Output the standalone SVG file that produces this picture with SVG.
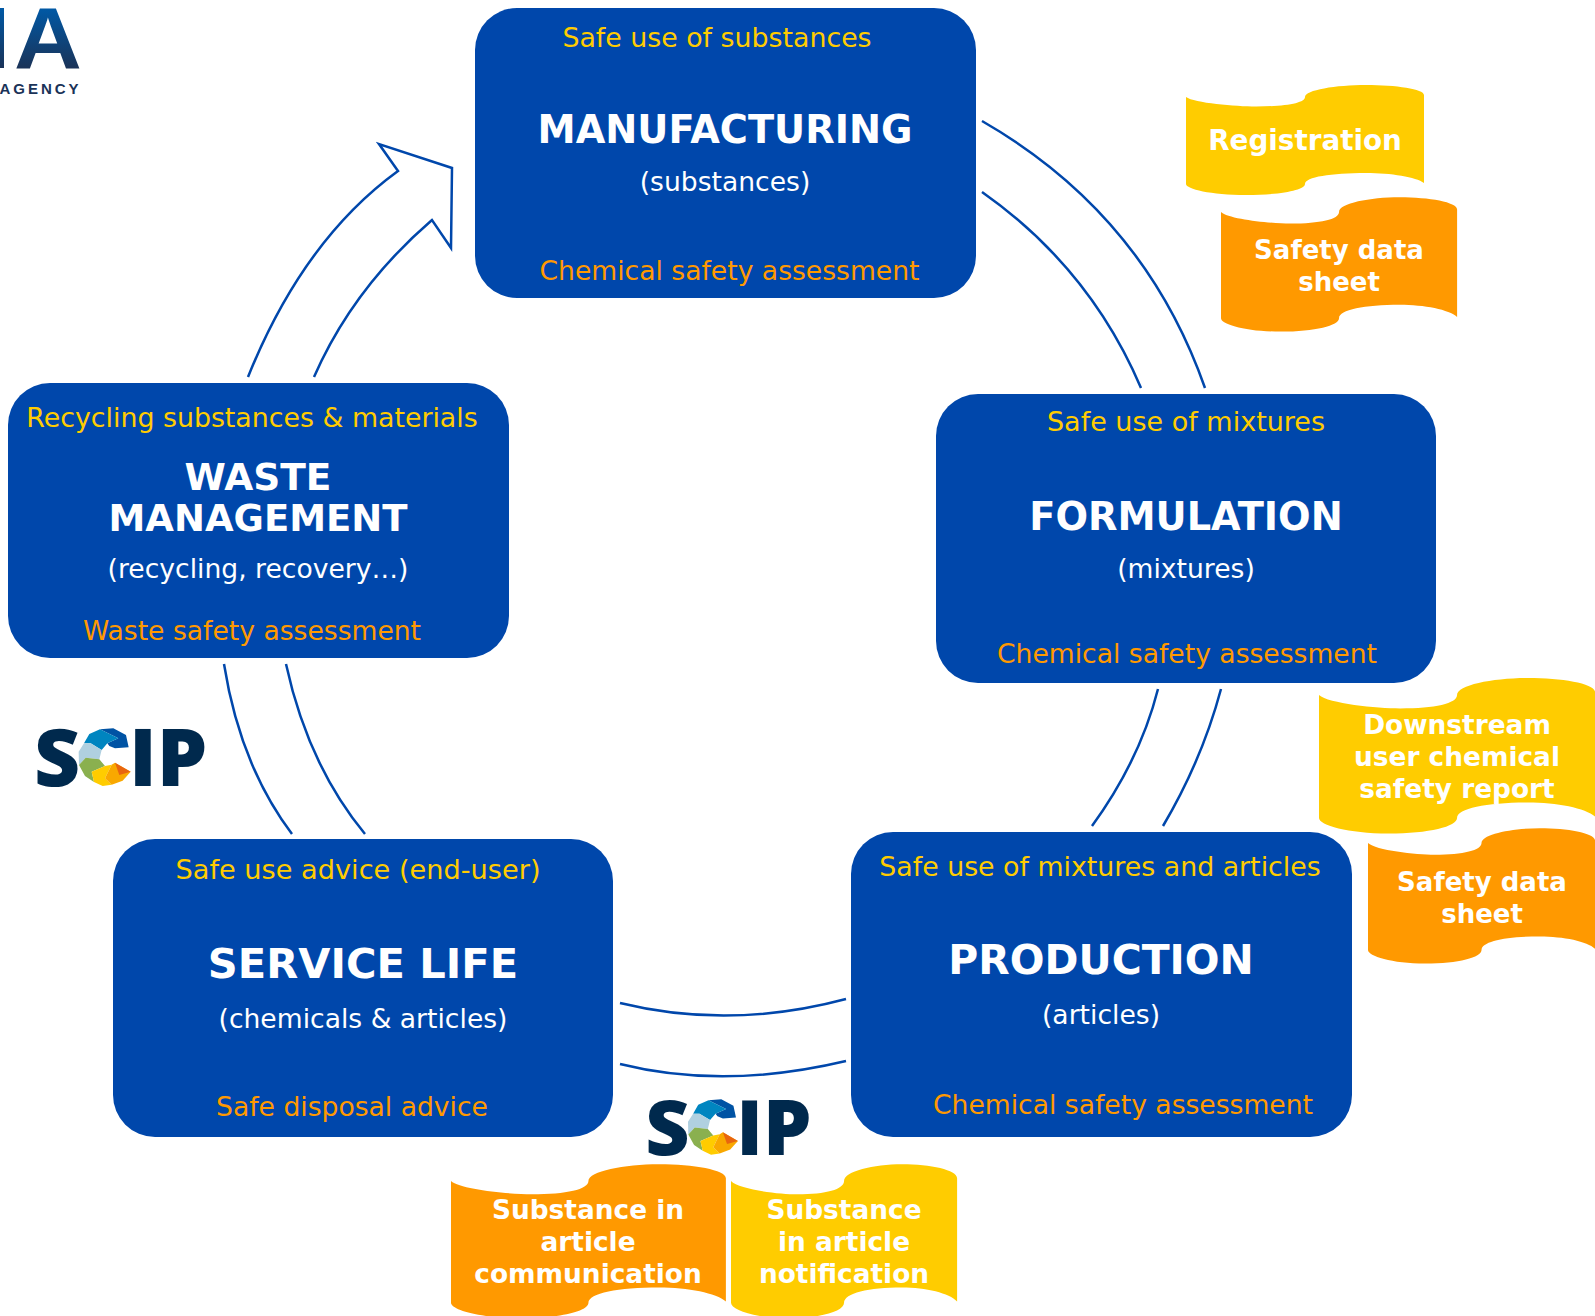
<svg xmlns="http://www.w3.org/2000/svg" width="1595" height="1316" viewBox="0 0 1595 1316">
<style>
text{font-family:"DejaVu Sans",Verdana,sans-serif;text-anchor:middle}
.box{fill:#0047ab}
.t{font-size:38.300px;font-weight:700;fill:#fff}
.s{font-size:26.600px;fill:#fff}
.y{font-size:26.800px;fill:#ffcc00}
.o{font-size:26.600px;fill:#ff9900}
.b{font-size:26.400px;font-weight:700;fill:#fff}
.by{fill:#ffcc00}.bo{fill:#ff9900}
.c{fill:none;stroke:#0047ab;stroke-width:2.500}
.logo{font-family:"Open Sans",sans-serif;font-weight:800;font-size:80px;fill:#00294d;text-anchor:start}
</style>
<defs>
<linearGradient id="ga" gradientUnits="userSpaceOnUse" x1="0" y1="8" x2="0" y2="68"><stop offset="0" stop-color="#0059a6"/><stop offset="1" stop-color="#1a3358"/></linearGradient>
<linearGradient id="gb" gradientUnits="userSpaceOnUse" x1="0" y1="-60" x2="0" y2="0"><stop offset="0" stop-color="#0059a6"/><stop offset="1" stop-color="#1a3358"/></linearGradient>
<path id="banner" d="M0 0C8 6 50 9.500 70 9.500C100 9.500 119 6 119 0C119 -7 150 -12 180 -12C210 -12 238 -8 238 -2L238 86C230 80 205 76 180 76C145 76 119 80 119 87C119 93 95 98 60 98C25 98 0 92 0 87Z"/>
<g id="scip">
<text class="logo" x="-3" y="58">S</text>
<text class="logo" x="92" y="58">IP</text>
<g transform="translate(-17 -18) scale(.3333)">
<polygon fill="#0053a4" points="240,58 280,55 318,75 326,112 285,115 268,108 262,100 295,85"/>
<polygon fill="#0085c0" points="240,58 295,85 262,100 245,120 212,100 192,100 208,72"/>
<polygon fill="#b0d0e0" points="212,100 245,120 238,148 197,143 177,165 176,125 192,100"/>
<polygon fill="#8ab04f" points="197,143 238,148 255,168 215,185 222,216 195,198 177,165"/>
<polygon fill="#ffcc00" points="215,185 255,168 275,164 255,205 275,224 248,228 222,216"/>
<polygon fill="#f9a800" points="285,158 332,185 308,212 275,224 255,205 275,164"/>
<polygon fill="#e8650f" points="285,158 332,185 298,195"/>
</g>
</g>
</defs>

<g id="logo-echa">
<rect x="0" y="8" width="4" height="60" fill="url(#ga)"/>
<text transform="translate(48 68) scale(1.080 1)" style="font-family:'Liberation Sans',sans-serif;font-weight:700;font-size:87px" fill="url(#gb)">A</text>
<text x="40.500" y="94" style="font-family:'Liberation Sans',sans-serif;font-weight:700;font-size:15px;letter-spacing:3px" fill="#1a3358">AGENCY</text>
</g>

<g id="connectors">
<path class="c" d="M982 121Q1144 214 1205 388"/>
<path class="c" d="M982 192Q1090 268 1141 388"/>
<path class="c" d="M1158 689Q1140 760 1092 826"/>
<path class="c" d="M1221 689Q1202 760 1163 826"/>
<path class="c" d="M846 999Q730 1030 620 1003"/>
<path class="c" d="M846 1061Q724 1090 620 1064"/>
<path class="c" d="M292 834Q240 765 224 664"/>
<path class="c" d="M365 834Q308 765 286 664"/>
<path class="c" d="M248 377Q303 240 398 171L379 144L452 168L451 248L432 220Q353 288 314 377"/>
</g>

<g id="manufacturing">
<rect class="box" x="475" y="8" width="501" height="290" rx="42"/>
<text class="y" x="717" y="47">Safe use of substances</text>
<text class="t" x="725" y="143">MANUFACTURING</text>
<text class="s" x="725" y="191">(substances)</text>
<text class="o" x="729.500" y="280">Chemical safety assessment</text>
</g>
<g id="formulation">
<rect class="box" x="936" y="394" width="500" height="289" rx="42"/>
<text class="y" x="1186" y="431" style="font-size:27px">Safe use of mixtures</text>
<text class="t" x="1186" y="530">FORMULATION</text>
<text class="s" x="1186" y="578">(mixtures)</text>
<text class="o" x="1187" y="663">Chemical safety assessment</text>
</g>
<g id="production">
<rect class="box" x="851" y="832" width="501" height="305" rx="42"/>
<text class="y" x="1100" y="876">Safe use of mixtures and articles</text>
<text class="t" x="1101" y="974" style="font-size:40.900px">PRODUCTION</text>
<text class="s" x="1101" y="1024">(articles)</text>
<text class="o" x="1123" y="1114">Chemical safety assessment</text>
</g>
<g id="service-life">
<rect class="box" x="113" y="839" width="500" height="298" rx="42"/>
<text class="y" x="358" y="879" style="font-size:27.200px">Safe use advice (end-user)</text>
<text class="t" x="363" y="978" style="font-size:41.600px">SERVICE LIFE</text>
<text class="s" x="363" y="1028">(chemicals &amp; articles)</text>
<text class="o" x="352" y="1116">Safe disposal advice</text>
</g>
<g id="waste-management">
<rect class="box" x="8" y="383" width="501" height="275" rx="42"/>
<text class="y" x="252" y="427">Recycling substances &amp; materials</text>
<text class="t" x="258" y="490" style="font-size:37.500px">WASTE</text>
<text class="t" x="258" y="531" style="font-size:37px">MANAGEMENT</text>
<text class="s" x="258" y="578">(recycling, recovery…)</text>
<text class="o" x="252" y="640">Waste safety assessment</text>
</g>

<g id="registration">
<use href="#banner" class="by" transform="translate(1186 97)"/>
<text class="b" x="1305" y="150" style="font-size:27.800px">Registration</text>
</g>
<g id="sds-1">
<use href="#banner" class="bo" transform="translate(1221 212) scale(.992 1.220)"/>
<text class="b" x="1339" y="259" style="font-size:26px">Safety data</text>
<text class="b" x="1339" y="291" style="font-size:26px">sheet</text>
</g>
<g id="dus-csr">
<use href="#banner" class="by" transform="translate(1319 695) scale(1.160 1.414)"/>
<text class="b" x="1457" y="734">Downstream</text>
<text class="b" x="1457" y="766">user chemical</text>
<text class="b" x="1457" y="798">safety report</text>
</g>
<g id="sds-2">
<use href="#banner" class="bo" transform="translate(1368 843) scale(.954 1.230)"/>
<text class="b" x="1482" y="891" style="font-size:26px">Safety data</text>
<text class="b" x="1482" y="923" style="font-size:26px">sheet</text>
</g>
<g id="sia-comm">
<use href="#banner" class="bo" transform="translate(451 1181) scale(1.155 1.400)"/>
<text class="b" x="588" y="1219">Substance in</text>
<text class="b" x="588" y="1251">article</text>
<text class="b" x="588" y="1283">communication</text>
</g>
<g id="sia-notif">
<use href="#banner" class="by" transform="translate(731 1181) scale(.950 1.400)"/>
<text class="b" x="844" y="1219">Substance</text>
<text class="b" x="844" y="1251">in article</text>
<text class="b" x="844" y="1283">notification</text>
</g>

<use id="scip-1" href="#scip" transform="translate(37 728)"/>
<use id="scip-2" href="#scip" transform="translate(648 1099) scale(.96)"/>
</svg>
